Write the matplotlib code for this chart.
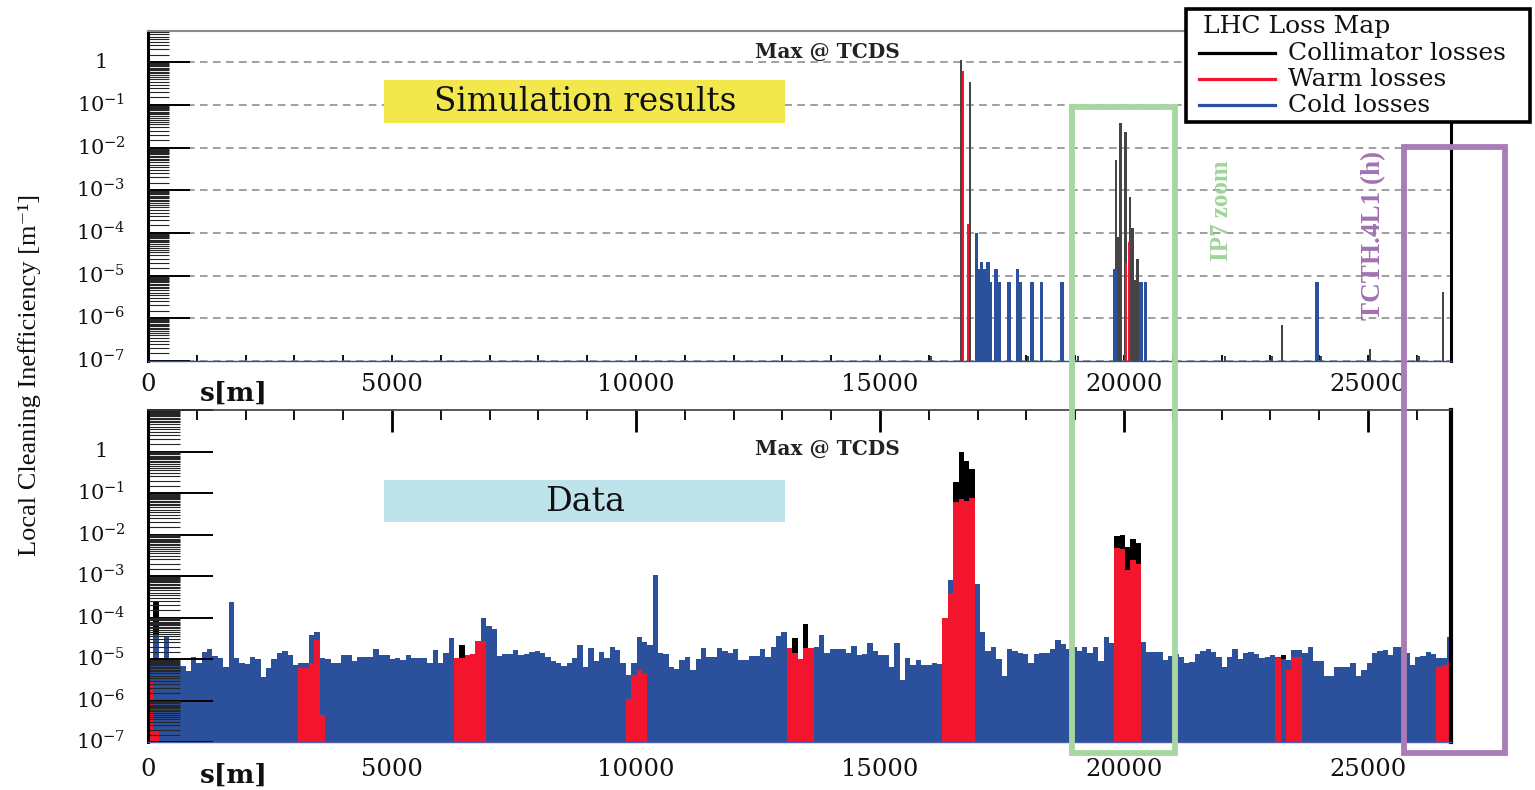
import numpy as np
import matplotlib
matplotlib.use("Agg")
import matplotlib.pyplot as plt
from matplotlib.ticker import LogLocator, MultipleLocator, NullFormatter, NullLocator
from matplotlib.patches import Rectangle
from matplotlib.lines import Line2D
from matplotlib.transforms import blended_transform_factory

# ---------------------------------------------------------------- data
BIN_WIDTH = 110.0  # m, bin width of the measured loss map

# measured (Data) cold losses, log10 of value per bin, from s = 0
data_cold_log10 = [
    -5.17, -4.42, -4.98, -4.45, -4.98, -5.00, -5.17, -5.30, -4.95, -5.09,
    -4.82, -4.76, -4.93, -4.98, -5.19, -3.62, -4.98, -5.10, -5.12, -4.95,
    -5.00, -5.43, -5.21, -5.00, -4.85, -4.80, -4.90, -5.15, -5.10, -5.10,
    -4.42, -4.34, -4.98, -5.00, -5.10, -5.10, -4.90, -4.90, -5.05, -4.95,
    -4.95, -4.95, -4.75, -4.90, -4.90, -5.00, -4.98, -5.02, -4.90, -4.98,
    -4.98, -4.98, -5.10, -4.79, -5.10, -4.85, -4.50, -4.98, -4.98, -4.95,
    -4.95, -4.60, -4.00, -4.20, -4.28, -4.92, -4.88, -4.88, -4.78, -4.90,
    -4.88, -4.83, -4.80, -4.86, -4.94, -5.05, -5.10, -5.16, -5.10, -4.98,
    -4.66, -5.20, -4.74, -5.05, -4.82, -4.98, -4.72, -4.78, -5.10, -5.39,
    -5.10, -4.46, -4.60, -4.66, -2.98, -4.86, -4.87, -5.19, -5.23, -5.02,
    -4.94, -5.27, -5.00, -4.74, -4.94, -4.95, -4.74, -4.80, -4.85, -4.76,
    -5.03, -5.03, -4.93, -4.93, -4.76, -4.94, -4.70, -4.45, -4.35, -4.74,
    -4.90, -5.00, -4.80, -4.80, -4.72, -4.43, -4.85, -4.75, -4.75, -4.75,
    -4.86, -4.69, -4.90, -4.88, -4.62, -4.80, -4.90, -4.90, -5.20, -4.62,
    -5.50, -4.98, -5.15, -5.03, -5.15, -5.15, -5.10, -5.12, -5.05, -3.10,
    -3.00, -3.00, -3.00, -3.05, -3.20, -4.36, -4.80, -4.70, -5.00, -5.40,
    -4.75, -4.80, -4.85, -4.88, -5.10, -4.87, -4.85, -4.85, -4.75, -4.55,
    -4.65, -4.75, -4.72, -4.80, -4.72, -4.85, -4.72, -5.05, -4.47, -4.61,
    -4.60, -4.60, -4.60, -4.60, -4.55, -4.60, -4.84, -4.83, -4.83, -5.03,
    -4.92, -4.88, -4.95, -5.10, -5.08, -4.88, -4.80, -4.77, -4.82, -4.94,
    -5.20, -4.94, -4.75, -5.00, -4.85, -4.82, -4.88, -4.98, -4.95, -4.90,
    -4.95, -5.00, -5.02, -4.78, -4.78, -4.85, -4.72, -5.06, -5.06, -5.41,
    -5.40, -5.20, -5.20, -5.20, -5.10, -5.41, -5.27, -5.10, -4.85, -4.80,
    -4.79, -4.90, -4.70, -4.70, -4.86, -5.15, -4.94, -4.93, -4.84, -4.88,
    -4.98, -4.98, -4.48,
]

# measured warm losses: bin index and log10 value
data_warm_bins = [0, 1, 28, 29, 30, 31, 32, 57, 58, 59, 60, 61, 62,
                  89, 90, 91, 92, 119, 120, 121, 122, 123,
                  148, 149, 150, 151, 152, 153, 180, 181, 182, 183, 184,
                  210, 212, 213, 214, 240, 241, 242]
data_warm_log10 = [-5.55, -6.70, -5.22, -5.22, -5.10, -4.54, -6.35,
                   -4.98, -4.98, -4.90, -4.88, -4.57, -4.57,
                   -5.96, -5.39, -5.27, -5.33, -4.74, -4.85, -5.00, -4.74, -4.74,
                   -4.00, -3.42, -1.21, -1.14, -1.20, -1.12,
                   -2.33, -2.35, -2.86, -2.61, -2.70,
                   -4.98, -5.27, -4.94, -4.94, -5.19, -5.15, -5.06]

# measured collimator losses: bin index and log10 value
data_coll_bins = [1, 58, 120, 122, 150, 151, 152, 153, 180, 181, 182, 183, 184, 211]
data_coll_log10 = [-3.60, -4.66, -4.49, -4.16, -0.73, 0.00, -0.24, -0.42,
                   -2.04, -2.02, -2.30, -2.10, -2.20, -4.90]

# simulation results: position s [m] and local cleaning inefficiency
sim_coll_s = [16045, 16660, 16844, 18033, 19057, 19836, 19870, 19928, 20031,
              20123, 20174, 20215, 20277, 22070, 23033, 23238, 24037, 25041,
              26037, 26537]
sim_coll_val = [1.3e-7, 1.1, 0.35, 1.3e-7, 1.3e-7, 5e-3, 8e-5, 0.038, 0.023,
                7e-4, 1.3e-4, 8e-6, 2.5e-5, 1.3e-7, 1.3e-7, 7e-7, 1.3e-7, 1.9e-7,
                1.3e-7, 4.2e-6]
sim_warm_s = [16705, 16800, 20040, 20100]
sim_warm_val = [0.62, 1.6e-4, 2e-5, 6e-5]
sim_cold_s = [16977, 17039, 17080, 17150, 17190, 17213, 17254, 17377, 17449,
              17643, 17818, 17869, 18115, 18309, 18730, 19816, 20348, 20441,
              23955]
sim_cold_val = [1e-4, 1.45e-5, 2.1e-5, 1.45e-5, 7e-6, 2.1e-5, 7e-6, 1.45e-5,
                7e-6, 7e-6, 1.45e-5, 7e-6, 7e-6, 7e-6, 7e-6, 1.45e-5, 7e-6,
                7e-6, 7e-6]

xtick_values = [0, 5000, 10000, 15000, 20000, 25000]
ytick_exponents = [0, -1, -2, -3, -4, -5, -6, -7]

# ---------------------------------------------------------------- style
BLUE = "#2c519c"
RED = "#f3152d"
GRAY = "#454545"
GREEN_BOX = "#a7d6a1"
PURPLE_BOX = "#a97cb6"

plt.rcParams["font.family"] = ["DejaVu Serif"]
plt.rcParams["mathtext.fontset"] = "dejavuserif"

W, H = 1535, 790
fig = plt.figure(figsize=(W / 100, H / 100), dpi=100)
fig.patch.set_facecolor("white")


def fx(x):
    return x / W


def fy(y):
    return 1 - y / H


XMAX = 26700
ax1 = fig.add_axes([fx(148), fy(361), fx(1451) - fx(148), fy(31) - fy(361)])
ax2 = fig.add_axes([fx(148), fy(742), fx(1451) - fx(148), fy(410) - fy(742)])

BASE = 1e-7

# ---------------- top panel: simulation
ax1.bar(sim_coll_s, np.array(sim_coll_val) - BASE, bottom=BASE, width=50,
        color=GRAY, zorder=1, linewidth=0)
ax1.bar(sim_cold_s, np.array(sim_cold_val) - BASE, bottom=BASE, width=70,
        color=BLUE, zorder=1.2, linewidth=0)
ax1.bar(sim_warm_s, np.array(sim_warm_val) - BASE, bottom=BASE, width=40,
        color=RED, zorder=1.4, linewidth=0)

# ---------------- bottom panel: data
n = len(data_cold_log10)
edges = np.arange(n + 1) * BIN_WIDTH
cold = 10.0 ** np.array(data_cold_log10)
warm = np.full(n, BASE)
warm[data_warm_bins] = 10.0 ** np.array(data_warm_log10)
coll = np.full(n, BASE)
coll[data_coll_bins] = 10.0 ** np.array(data_coll_log10)

ax2.stairs(coll, edges, baseline=BASE, fill=True, color="black", zorder=0.9)
ax2.stairs(cold, edges, baseline=BASE, fill=True, color=BLUE, zorder=1)
ax2.stairs(warm, edges, baseline=BASE, fill=True, color=RED, zorder=1.1)

# ---------------- axes styling
for ax, top, majlen, minlen in ((ax1, 5.4, 30, 15), (ax2, 10.0, 47, 23)):
    ax.set_yscale("log")
    ax.set_xlim(0, XMAX)
    ax.set_ylim(BASE, top)
    ax.yaxis.set_major_locator(LogLocator(base=10, numticks=30))
    ax.yaxis.set_minor_locator(LogLocator(base=10, subs=np.arange(1.5, 10, 0.5), numticks=60))
    ax.yaxis.set_major_formatter(NullFormatter())
    ax.yaxis.set_minor_formatter(NullFormatter())
    ax.tick_params(axis="y", which="major", direction="in", length=majlen,
                   width=1.4, color="black", left=True, right=False)
    ax.tick_params(axis="y", which="minor", direction="in", length=minlen,
                   width=0.8, color="#262626", left=True, right=False)
    ax.spines["left"].set_linewidth(2.2)
    ax.spines["left"].set_color("black")
    ax.set_facecolor("none")

ax1.grid(True, axis="y", which="major", color="#858585", linestyle=(0, (5, 3.5)),
         linewidth=1.1)
ax1.set_axisbelow(True)
ax1.xaxis.set_major_locator(MultipleLocator(1000))
ax1.xaxis.set_minor_locator(NullLocator())
ax1.xaxis.set_major_formatter(NullFormatter())
ax1.tick_params(axis="x", which="major", direction="in", length=4.5, width=1.3,
                color="black", bottom=True, top=False)
ax1.spines["top"].set_color("#8a8a8a")
ax1.spines["top"].set_linewidth(1.5)
ax1.spines["right"].set_color("black")
ax1.spines["right"].set_linewidth(2.2)
ax1.spines["bottom"].set_color(BLUE)
ax1.spines["bottom"].set_linewidth(1.0)

ax2.xaxis.set_major_locator(MultipleLocator(5000))
ax2.xaxis.set_minor_locator(MultipleLocator(1000))
ax2.xaxis.set_major_formatter(NullFormatter())
ax2.tick_params(axis="x", which="major", direction="in", length=16, width=2.0,
                color="black", top=True, bottom=False)
ax2.tick_params(axis="x", which="minor", direction="in", length=7, width=1.3,
                color="black", top=True, bottom=False)
ax2.spines["top"].set_color("#3a3a3a")
ax2.spines["top"].set_linewidth(1.2)
ax2.spines["right"].set_color("black")
ax2.spines["right"].set_linewidth(3.0)
ax2.spines["bottom"].set_color("#4a5fa5")
ax2.spines["bottom"].set_linewidth(1.0)

# ---------------- tick labels
for ax, ylab_y, sm_y in ((ax1, 385, 393), (ax2, 770, 775)):
    tr_x = blended_transform_factory(ax.transData, fig.transFigure)
    for v in xtick_values:
        ax.text(v, fy(ylab_y), f"{v}", transform=tr_x, ha="center", va="center",
                fontsize=17.5, color="#111111", clip_on=False)
    fig.text(fx(234), fy(sm_y), "s[m]", ha="center", va="center", fontsize=19,
             fontweight="bold", color="#111111")
    tr_y = blended_transform_factory(fig.transFigure, ax.transData)
    for e in ytick_exponents:
        lab = "1" if e == 0 else rf"$10^{{{e}}}$"
        ax.text(fx(101), 10.0 ** e, lab, transform=tr_y, ha="center", va="center",
                fontsize=15, color="#111111", clip_on=False)

fig.text(fx(30), fy(375), "Local Cleaning Inefficiency [m⁻¹]", rotation=90,
         ha="center", va="center", fontsize=19,
         family=["Liberation Serif", "DejaVu Serif"], color="#111111")

# ---------------- annotations
fig.text(fx(827), fy(52), "Max @ TCDS", ha="center", va="center", fontsize=14.5,
         fontweight="bold", color="#222222")
fig.text(fx(827), fy(449), "Max @ TCDS", ha="center", va="center", fontsize=14.5,
         fontweight="bold", color="#222222")

fig.add_artist(Rectangle((fx(384), fy(123)), fx(785) - fx(384), fy(80) - fy(123),
                         transform=fig.transFigure, facecolor="#f2e84e",
                         edgecolor="none", zorder=3))
fig.text(fx(585), fy(102), "Simulation results", ha="center", va="center",
         fontsize=23.5, color="#111111", zorder=4)
fig.add_artist(Rectangle((fx(384), fy(522)), fx(785) - fx(384), fy(480) - fy(522),
                         transform=fig.transFigure, facecolor="#bfe3ea",
                         edgecolor="none", zorder=3))
fig.text(fx(585), fy(502), "Data", ha="center", va="center", fontsize=24,
         color="#111111", zorder=4)

# highlight boxes
fig.add_artist(Rectangle((fx(1072), fy(753)), fx(1175) - fx(1072), fy(107) - fy(753),
                         transform=fig.transFigure, facecolor="none",
                         edgecolor=GREEN_BOX, linewidth=4.2, zorder=6))
fig.add_artist(Rectangle((fx(1404), fy(753)), fx(1505) - fx(1404), fy(147) - fy(753),
                         transform=fig.transFigure, facecolor="none",
                         edgecolor=PURPLE_BOX, linewidth=4.2, zorder=6))
fig.text(fx(1221), fy(211), "IP7 zoom", rotation=90, ha="center", va="center",
         fontsize=18, fontweight="bold", color="#9fd49a",
         family=["Liberation Serif", "DejaVu Serif"], zorder=6)
fig.text(fx(1374), fy(235), "TCTH.4L1 (h)", rotation=90, ha="center", va="center",
         fontsize=19.5, fontweight="bold", color="#a271b1",
         family=["Liberation Serif", "DejaVu Serif"], zorder=6)

# ---------------- legend box
fig.add_artist(Rectangle((fx(1186), fy(122)), fx(1530) - fx(1186), fy(9) - fy(122),
                         transform=fig.transFigure, facecolor="white",
                         edgecolor="black", linewidth=2.6, zorder=7))
fig.text(fx(1203), fy(27), "LHC Loss Map", ha="left", va="center", fontsize=18,
         color="#111111", zorder=8)
legend_items = [("Collimator losses", "black", 53), ("Warm losses", RED, 79),
                ("Cold losses", BLUE, 105)]
for label, col, yy in legend_items:
    fig.add_artist(Line2D([fx(1199), fx(1275)], [fy(yy), fy(yy)],
                          transform=fig.transFigure, color=col, linewidth=2.3,
                          zorder=8))
    fig.text(fx(1288), fy(yy), label, ha="left", va="center", fontsize=18,
             color="#111111", zorder=8)

fig.savefig("out.png", dpi=100)
